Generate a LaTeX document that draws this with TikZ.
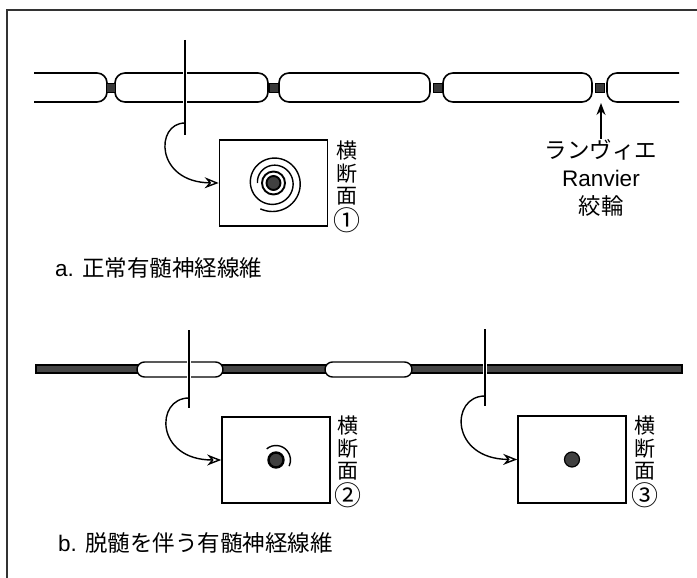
\documentclass[tikz,border=0pt]{standalone}
\usepackage{fontspec}
\setmainfont{Liberation Sans}
\newfontfamily\jp{Noto Sans CJK JP}
\usetikzlibrary{arrows.meta,positioning}
\newcommand\bignum[1]{{\fontsize{27}{22}\selectfont #1}}

\begin{document}
\begin{tikzpicture}[x=1pt,y=-1pt,
  fiber/.style={line width=1.6pt},
  ranvnode/.style={draw,line width=0.8pt,fill=gray!45!black,minimum size=9pt,inner sep=0pt},
  myelin/.style={draw,line width=1.4pt,fill=white,rounded corners=7.5pt},
  section/.style={draw,line width=1.6pt,minimum width=108pt,minimum height=86pt,inner sep=0pt},
  cut/.style={line width=1.4pt,preaction={draw=white,line width=4.5pt}},
  turn/.style={line width=1.4pt,-{Stealth[open,length=14pt,width=11pt]}},
  vlabel/.style={anchor=north,inner sep=0pt,align=center,font=\jp\fontsize{21}{22.5}\selectfont},
  caption/.style={anchor=west,inner sep=0pt,font=\fontsize{22.5}{26}\selectfont},
  >=Stealth]
  \useasboundingbox (0,0) rectangle (697,578);
  \draw[line width=1.8pt,black!80] (7,578) -- (7,10) -- (697,10);

  % a: normal fiber, internodes and nodes of Ranvier
  \draw[fiber,rounded corners=10pt] (34,73) -- (107,73) -- (107,102) -- (34,102);
  \draw[fiber,rounded corners=10pt] (115,73) rectangle (268,102);
  \draw[fiber,rounded corners=10pt] (279,73) rectangle (430,102);
  \draw[fiber,rounded corners=10pt] (443,73) rectangle (592,102);
  \draw[fiber,rounded corners=10pt] (679,73) -- (607,73) -- (607,102) -- (679,102);
  \node[ranvnode] (n1) at (111,87.5) {};
  \node[ranvnode] (n2) at (273.5,87.5) {};
  \node[ranvnode] (n3) at (437.5,87.5) {};
  \node[ranvnode] (n4) at (600,87.5) {};

  \coordinate (cut1top) at (185,40);
  \coordinate (cut1bot) at (185,135);
  \coordinate (cut1turn) at (185,123);
  \draw[cut] (cut1top) -- (cut1bot);

  \node[section] (box1) at (273.5,183) {};
  \begin{scope}[shift={(box1.center)},yscale=-1]
    \draw[line width=1.4pt] plot[domain=0:657,samples=160,smooth,variable=\t]
      ({(16+\t/657*13)*cos(540-\t)},{(16+\t/657*13)*sin(540-\t)});
    \draw[line width=1.9pt] (0,0) circle (11.5);
    \draw[line width=1.9pt,fill=gray!50!black] (0,0) circle (7);
  \end{scope}
  \draw[turn] (cut1turn) .. controls (155,123) and (155,182) .. (box1.west);
  \node[vlabel] (lab1) at (347,141) {横\\断\\面\\[1pt]\bignum{①}};

  \node[inner sep=0pt,align=center,anchor=north,font=\fontsize{22.5}{28}\selectfont] (ranv) at (601,139)
    {{\jp ランヴィエ}\\Ranvier\\{\jp 絞輪}};
  \coordinate (rtip) at (601,103);
  \draw[line width=1.5pt,-{Stealth[length=12pt,width=9pt]}] (ranv.north) -- (rtip);

  \node[caption] (capa) at (55,268) {a. {\jp 正常有髄神経線維}};

  % b: demyelinated fiber
  \draw[line width=1.2pt,fill=gray!55!black] (36,365) rectangle (682,373);
  \draw[myelin] (137,362) rectangle (223,377);
  \draw[myelin] (325,362) rectangle (412,377);

  \coordinate (cut2top) at (189,330);
  \coordinate (cut2bot) at (189,408);
  \coordinate (cut2turn) at (189,398);
  \draw[cut] (cut2top) -- (cut2bot);
  \coordinate (cut3top) at (485,329);
  \coordinate (cut3bot) at (485,406);
  \coordinate (cut3turn) at (485,396);
  \draw[cut] (cut3top) -- (cut3bot);

  \node[section] (box2) at (276,460) {};
  \begin{scope}[shift={(box2.center)},yscale=-1]
    \draw[line width=1.4pt] (130:14.5) arc[start angle=130,end angle=-25,radius=14.5];
    \draw[line width=2.4pt,fill=gray!50!black] (0,0) circle (7.5);
  \end{scope}
  \draw[turn] (cut2turn) .. controls (155,398) and (155,460) .. (box2.west);
  \node[vlabel] (lab2) at (348,416) {横\\断\\面\\[1pt]\bignum{②}};

  \node[section,minimum height=87pt] (box3) at (572,459.5) {};
  \draw[line width=1.2pt,fill=gray!50!black] (box3.center) circle (7.5);
  \draw[turn] (cut3turn) .. controls (450,396) and (450,459) .. (box3.west);
  \node[vlabel] (lab3) at (645,416) {横\\断\\面\\[1pt]\bignum{③}};

  \node[caption] (capb) at (58,543) {b. {\jp 脱髄を伴う有髄神経線維}};
\end{tikzpicture}
\end{document}
